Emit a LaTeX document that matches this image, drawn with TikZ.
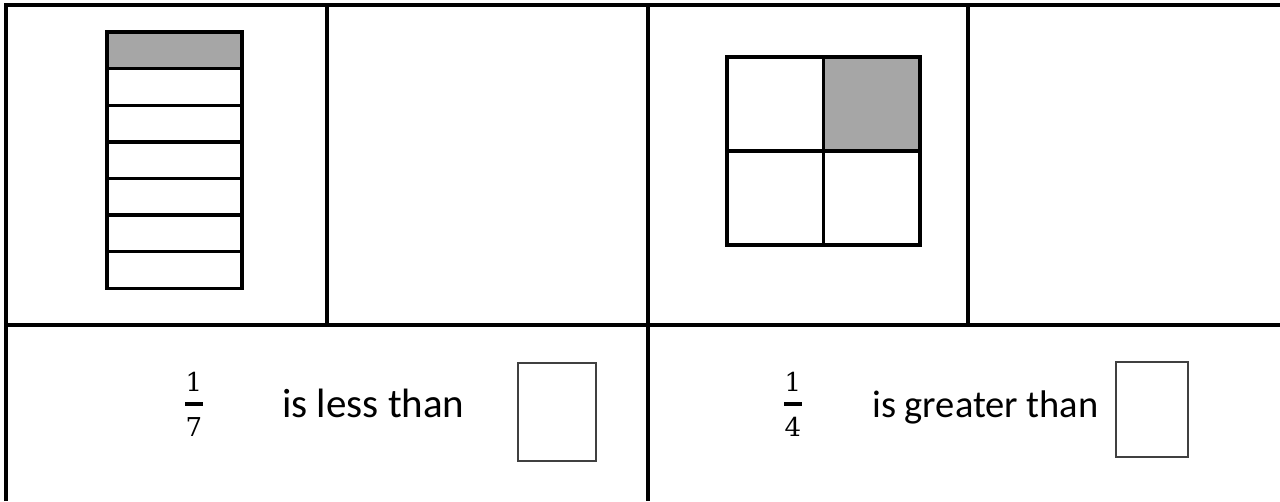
\documentclass[tikz,border=0pt]{standalone}
\usepackage{fontspec}
\setmainfont{Carlito}
\newfontfamily\digitfont{DejaVu Serif}
\usepackage{tikz}
\usetikzlibrary{positioning}

\definecolor{shade}{HTML}{A6A6A6}

\begin{document}
\begin{tikzpicture}[
  x=1pt, y=-1pt,
  rule/.style={draw=black, line width=3.4pt},
  strip/.style={draw=black, line width=3.4pt, minimum width=135pt, minimum height=36.6pt, inner sep=0pt, outer sep=0pt, fill=white},
  quarter/.style={draw=black, line width=3.4pt, minimum width=96.5pt, minimum height=94pt, inner sep=0pt, outer sep=0pt, fill=white},
  answer/.style={draw=black!75, line width=1.2pt, inner sep=0pt, outer sep=0pt},
  fracbar/.style={fill=black, minimum width=18pt, minimum height=4pt, inner sep=0pt, outer sep=0pt},
  digit/.style={inner sep=0pt, outer sep=0pt, text height=19pt, text depth=0pt, font=\digitfont\fontsize{26}{31}\selectfont},
  phrase/.style={inner sep=0pt, anchor=base west, font=\fontsize{40}{48}\selectfont}
]
\useasboundingbox (0,0) rectangle (1280,501);
% table rules
\draw[rule] (6,501) -- (6,5) -- (1280,5);
\draw[rule] (6,325) -- (1280,325);
\draw[rule] (327,5) -- (327,325);
\draw[rule] (648,5) -- (648,501);
\draw[rule] (968,5) -- (968,325);
% one seventh
\foreach \i in {1,...,7}
  \node[strip] (s\i) at (174.5,{32+36.6*(\i-0.5)}) {};
\node[strip, fill=shade] at (s1) {};
% one quarter
\node[quarter] (q1) at (775.25,104) {};
\node[quarter, fill=shade] (q2) at (871.75,104) {};
\node[quarter] (q3) at (775.25,198) {};
\node[quarter] (q4) at (871.75,198) {};
% statements
\node[fracbar] (b7) at (194,404) {};
\node[digit, above=10.5pt of b7] (n7) {1};
\node[digit, below=11.5pt of b7] (d7) {7};
\node[phrase, font=\fontsize{41}{48}\selectfont] (less) at (282,417) {is less than};
\node[answer, minimum width=78pt, minimum height=98pt] (a7) at (557,412) {};
\node[fracbar] (b4) at (793,404) {};
\node[digit, above=10.5pt of b4] (n4) {1};
\node[digit, below=11.5pt of b4] (d4) {4};
\node[phrase, font=\fontsize{38.5}{46}\selectfont] (greater) at (872,417) {is greater than};
\node[answer, minimum width=72pt, minimum height=95pt] (a4) at (1152,409.5) {};
\end{tikzpicture}
\end{document}
